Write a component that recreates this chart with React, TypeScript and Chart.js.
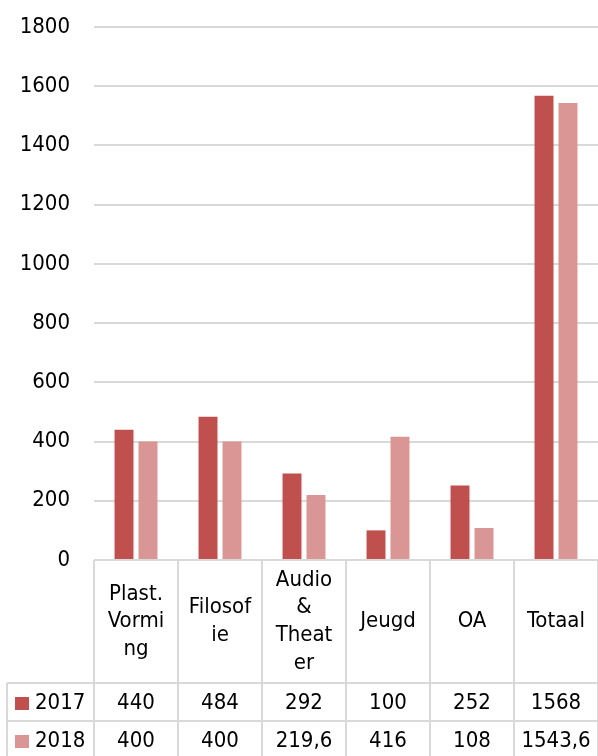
import React, { useEffect, useRef } from "react";
import { Chart, registerables } from "chart.js";

Chart.register(...registerables);

const categories: string[][] = [
  ["Plast.", "Vormi", "ng"],
  ["Filosof", "ie"],
  ["Audio", "&", "Theat", "er"],
  ["Jeugd"],
  ["OA"],
  ["Totaal"],
];
const seriesNames = ["2017", "2018"];
const values2017 = [440, 484, 292, 100, 252, 1568];
const values2018 = [400, 400, 219.6, 416, 108, 1543.6];
const yMin = 0;
const yMax = 1800;
const yStep = 200;

const COLORS = ["#C0504D", "#D99694"];
const FONT = "'DejaVu Sans Condensed', 'DejaVu Sans'";
const FS = 22;
const GRID = "#D9D9D9";

const tablePlugin = {
  id: "dataTable",
  afterDraw(chart: any) {
    const { ctx, chartArea, scales } = chart;
    const x = scales.x;
    const top = chartArea.bottom;
    const headerBottom = top + 123;
    const rowH = 38;
    const rowsBottom = headerBottom + rowH * 2;
    const legendLeft = 7;
    const n = categories.length;
    const half = (x.getPixelForValue(1) - x.getPixelForValue(0)) / 2;
    ctx.save();
    ctx.strokeStyle = GRID;
    ctx.lineWidth = 2;
    for (let i = 0; i <= n; i++) {
      const px = i < n ? x.getPixelForValue(i) - half : x.getPixelForValue(n - 1) + half;
      ctx.beginPath();
      ctx.moveTo(px, top);
      ctx.lineTo(px, rowsBottom);
      ctx.stroke();
    }
    ctx.beginPath();
    ctx.moveTo(legendLeft, headerBottom);
    ctx.lineTo(legendLeft, rowsBottom);
    ctx.stroke();
    for (let r = 0; r <= 2; r++) {
      const py = headerBottom + r * rowH;
      ctx.beginPath();
      ctx.moveTo(legendLeft, py);
      ctx.lineTo(chartArea.right, py);
      ctx.stroke();
    }
    ctx.fillStyle = "#000";
    ctx.font = `${FS}px ${FONT}`;
    ctx.textAlign = "center";
    ctx.textBaseline = "middle";
    const lh = 27.6;
    const headerMid = (top + headerBottom) / 2;
    categories.forEach((lines, i) => {
      const cx = x.getPixelForValue(i);
      const startY = headerMid - ((lines.length - 1) * lh) / 2;
      lines.forEach((l, j) => ctx.fillText(l, cx, startY + j * lh));
    });
    const rows = [values2017, values2018];
    rows.forEach((vals, r) => {
      const cy = headerBottom + r * rowH + rowH / 2 + 1;
      vals.forEach((v, i) => {
        ctx.fillText(String(v).replace(".", ","), x.getPixelForValue(i), cy);
      });
      ctx.fillStyle = COLORS[r];
      ctx.fillRect(15, cy - 6, 14, 13);
      ctx.fillStyle = "#000";
      ctx.textAlign = "left";
      ctx.fillText(seriesNames[r], 35, cy);
      ctx.textAlign = "center";
    });
    ctx.restore();
  },
};

export default function App() {
  const ref = useRef<HTMLCanvasElement>(null);
  useEffect(() => {
    document.body.style.margin = "0";
    const chart = new Chart(ref.current!, {
      type: "bar",
      data: {
        labels: categories.map((c) => c.join("")),
        datasets: [
          { label: seriesNames[0], data: values2017, backgroundColor: COLORS[0], categoryPercentage: 0.571, barPercentage: 0.79 },
          { label: seriesNames[1], data: values2018, backgroundColor: COLORS[1], categoryPercentage: 0.571, barPercentage: 0.79 },
        ],
      },
      options: {
        responsive: false,
        animation: false,
        devicePixelRatio: 1,
        layout: { padding: { top: 27, bottom: 196, left: 0, right: 0 } },
        plugins: { legend: { display: false }, tooltip: { enabled: false }, title: { display: false } },
        scales: {
          x: { display: false },
          y: {
            min: yMin,
            max: yMax,
            ticks: {
              stepSize: yStep,
              color: "#000",
              padding: 24,
              font: { family: FONT, size: FS },
              callback: (v: any) => String(v),
            },
            grid: { color: GRID, lineWidth: 2, drawTicks: false },
            border: { display: false },
            afterFit: (s: any) => {
              s.width = 94;
              s.paddingTop = 0;
              s.paddingBottom = 0;
            },
          },
        },
      },
      plugins: [tablePlugin],
    });
    return () => chart.destroy();
  }, []);
  return <canvas ref={ref} width={598} height={756} style={{ display: "block", width: 598, height: 756 }} />;
}
